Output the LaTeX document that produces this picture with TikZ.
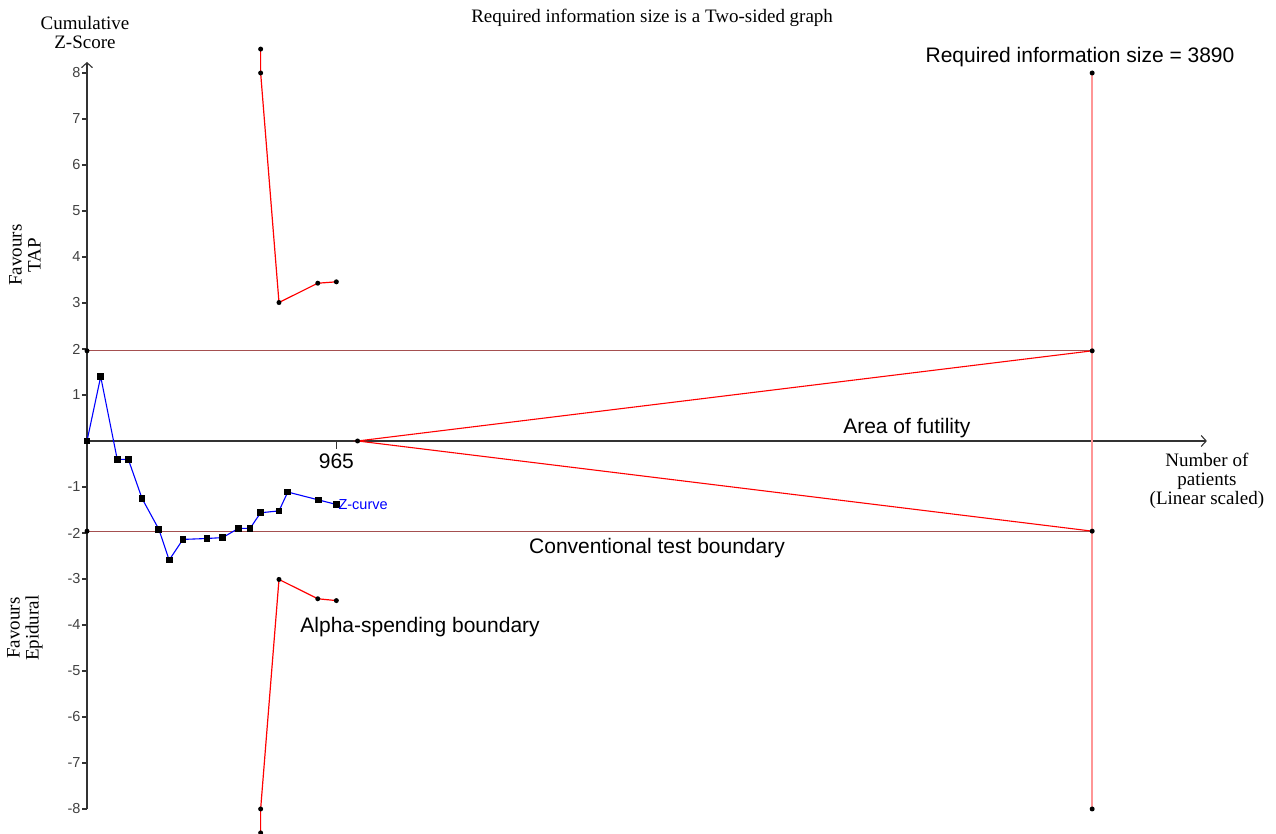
\documentclass[tikz,border=0pt]{standalone}
\usepackage{fontspec}
\setmainfont{Liberation Serif}
\setsansfont{Liberation Sans}
\usetikzlibrary{arrows.meta}
\usetikzlibrary{plotmarks}

\begin{document}
\begin{tikzpicture}[x=0.2584pt,y=46pt]
\tikzstyle{axis} = [draw=black!80, line width=1.1pt]
\tikzstyle{conv} = [draw={rgb,255:red,165;green,80;blue,80}, line width=1.2pt]
\tikzstyle{reqline} = [draw={rgb,255:red,255;green,150;blue,150}, line width=1.4pt]
\tikzstyle{futline} = [draw=red, line width=1.1pt]
\tikzstyle{aspend} = [draw=red, line width=1.2pt]
\tikzstyle{zcurve} = [draw=blue, line width=1.1pt]
\tikzstyle{ticklab} = [font=\sffamily\fontsize{14.5}{14.5}\selectfont, text=black!75, inner sep=1pt]
\tikzstyle{serif} = [font=\fontsize{19}{19}\selectfont, align=center, inner sep=0pt]
\tikzstyle{big} = [font=\sffamily\fontsize{21}{21}\selectfont, inner sep=0pt]
\def\ris{3890}
\def\zc{1.96}
\def\fut{1047}
\useasboundingbox (-336.7,-8.543) rectangle (4601.4,9.587);

% axes
\draw[axis,-{Straight Barb[length=5pt,width=11pt]}] (0,-8) -- (0,8.24);
\draw[axis,-{Straight Barb[length=5pt,width=11pt]}] (0,0) -- (4334,0);
\foreach \z in {-8,...,-1,1,2,...,8}
  \draw[axis] (0,\z) -- ++(-5pt,0) node[left,ticklab] {\z};
\draw[axis] (965,0) -- ++(0,-8pt) node[below=4pt,big] (n965) {965};

% boundaries
\draw[conv] (0,\zc) -- (\ris,\zc);
\draw[conv] (0,-\zc) -- (\ris,-\zc);
\draw[reqline] (\ris,-8) -- (\ris,8);
\draw[futline] (\ris,\zc) -- (\fut,0) -- (\ris,-\zc);
\draw[aspend] plot coordinates {(672,8.52) (672,8) (743,3.01) (893,3.43) (965,3.46)};
\draw[aspend] plot coordinates {(672,-8.52) (672,-8) (743,-3.01) (893,-3.43) (965,-3.47)};

% dots
\foreach \p in {(0,\zc),(0,-\zc),(\fut,0),(\ris,8),(\ris,\zc),(\ris,-\zc),(\ris,-8),
  (672,8.52),(672,8),(743,3.01),(893,3.43),(965,3.46),
  (672,-8.52),(672,-8),(743,-3.01),(893,-3.43),(965,-3.47)}
  \fill \p circle (2.5pt);

% z-curve
\draw[zcurve] plot[mark=square*,mark size=2.8pt,mark options={black,fill=black}] coordinates {
  (0,0) (53,1.40) (117,-0.40) (160,-0.40) (213,-1.25) (278,-1.92) (318,-2.59)
  (371,-2.14) (464,-2.12) (525,-2.10) (586,-1.90) (631,-1.90) (672,-1.56)
  (743,-1.52) (777,-1.11) (895,-1.28) (965,-1.38)};

% labels
\node[serif] (title) at (2187,9.196) {Required information size is a Two-sided graph};
\node[serif] (ylab) at (-8,8.89) {Cumulative\\Z-Score};
\node[serif,rotate=90] (favtap) at (-240,4.04) {Favours\\TAP};
\node[serif,rotate=90] (favepi) at (-240,-4.07) {Favours\\Epidural};
\node[serif,anchor=north] (xlab) at (4334,-0.26) {Number of\\patients\\(Linear scaled)};
\node[big] (rislab) at (3843,8.35) {Required information size = 3890};
\node[big] (futlab) at (3173,0.28) {Area of futility};
\node[big] (convlab) at (2206,-2.33) {Conventional test boundary};
\node[big] (aslab) at (1289,-4.04) {Alpha-spending boundary};
\node[font=\sffamily\fontsize{14.5}{14.5}\selectfont,text=blue,anchor=west,inner sep=2pt] (zlab) at (965,-1.38) {Z-curve};
\end{tikzpicture}
\end{document}
